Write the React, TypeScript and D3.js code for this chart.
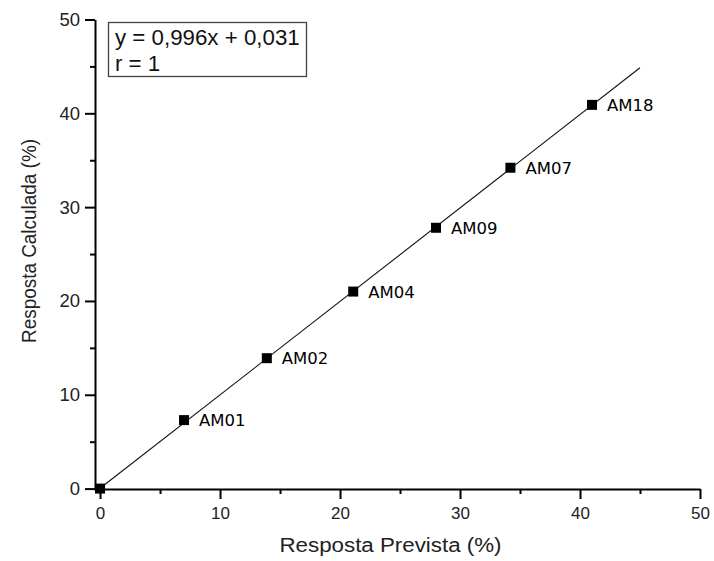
import { useRef, useEffect } from 'react'
import * as d3 from 'd3'

// sample names and values
const labels = ['', 'AM01', 'AM02', 'AM04', 'AM09', 'AM07', 'AM18']
const prevista = [0, 7.0, 13.9, 21.1, 28.0, 34.2, 41.0]
const calculada = [0, 7.3, 13.9, 21.0, 27.8, 34.2, 40.9]
const majorTicks = [0, 10, 20, 30, 40, 50]
const minorTicks = [5, 15, 25, 35, 45]
const fitSlope = 0.996
const fitIntercept = 0.031
const fitRange = [0, 45]
const equationLines = ['y = 0,996x + 0,031', 'r = 1']

const App = () => {
  const svgRef = useRef<SVGSVGElement>(null)

  useEffect(() => {
    const W = 714
    const H = 561
    const svg = d3.select(svgRef.current)
    svg.selectAll('*').remove()
    svg.attr('width', W).attr('height', H)

    const axisFont = '"Liberation Sans", Arial, sans-serif'

    // plot box: x axis 95..700, y axis 19.5..490
    const x = d3.scaleLinear().domain([-0.42, 50]).range([95, 700])
    const y = d3.scaleLinear().domain([-0.15, 50]).range([490, 19.5])

    const data = prevista.map((p, i) => ({ p, c: calculada[i], label: labels[i] }))

    // fitted line
    const line = d3.line<number>()
      .x(d => x(d))
      .y(d => y(fitSlope * d + fitIntercept))
    svg.append('path')
      .attr('d', line(fitRange))
      .attr('fill', 'none')
      .attr('stroke', '#111')
      .attr('stroke-width', 1.1)

    // points
    svg.selectAll('rect.pt')
      .data(data)
      .enter()
      .append('rect')
      .attr('class', 'pt')
      .attr('x', d => x(d.p) - 5)
      .attr('y', d => y(d.c) - 5)
      .attr('width', 10)
      .attr('height', 10)
      .attr('fill', '#000')

    svg.selectAll('text.lbl')
      .data(data.filter(d => d.label))
      .enter()
      .append('text')
      .attr('class', 'lbl')
      .attr('x', d => x(d.p) + 15)
      .attr('y', d => y(d.c) + 6)
      .attr('font-family', '"DejaVu Sans", sans-serif')
      .attr('font-size', 16.5)
      .attr('fill', '#000')
      .text(d => d.label)

    // x axis
    const xAxis = svg.append('g')
      .attr('transform', `translate(0,${489})`)
    xAxis.call(d3.axisBottom(x).tickValues(majorTicks).tickSize(10).tickSizeOuter(0).tickPadding(7.5))
    xAxis.append('g').call(d3.axisBottom(x).tickValues(minorTicks).tickSize(5).tickFormat(() => '').tickSizeOuter(0))
      .select('.domain').remove()
    xAxis.selectAll('text').attr('font-family', axisFont).attr('font-size', 17).attr('fill', '#222')
    xAxis.selectAll('line').attr('stroke', '#000').attr('stroke-width', 2)
    xAxis.selectAll('.domain').attr('stroke', '#000').attr('stroke-width', 2)

    // y axis
    const yAxis = svg.append('g')
      .attr('transform', `translate(${95},0)`)
    yAxis.call(d3.axisLeft(y).tickValues(majorTicks).tickSize(10).tickSizeOuter(0).tickPadding(5))
    yAxis.append('g').call(d3.axisLeft(y).tickValues(minorTicks).tickSize(5).tickFormat(() => '').tickSizeOuter(0))
      .select('.domain').remove()
    yAxis.selectAll('text').attr('font-family', axisFont).attr('font-size', 18.5).attr('fill', '#222')
    yAxis.selectAll('line').attr('stroke', '#000').attr('stroke-width', 2)
    yAxis.selectAll('.domain').attr('stroke', '#000').attr('stroke-width', 2)

    // axis titles
    svg.append('text')
      .attr('x', 390.5)
      .attr('y', 552)
      .attr('text-anchor', 'middle')
      .attr('font-family', axisFont)
      .attr('font-size', 20)
      .attr('textLength', 222)
      .attr('lengthAdjust', 'spacingAndGlyphs')
      .attr('fill', '#222')
      .text('Resposta Prevista (%)')

    svg.append('text')
      .attr('transform', `translate(35.5,${241}) rotate(-90)`)
      .attr('text-anchor', 'middle')
      .attr('font-family', axisFont)
      .attr('font-size', 21)
      .attr('textLength', 204)
      .attr('lengthAdjust', 'spacingAndGlyphs')
      .attr('fill', '#222')
      .text('Resposta Calculada (%)')

    // equation box
    const box = svg.append('g')
    box.append('rect')
      .attr('x', 108.5)
      .attr('y', 22.5)
      .attr('width', 198)
      .attr('height', 54)
      .attr('fill', '#fff')
      .attr('stroke', '#444')
      .attr('stroke-width', 1.3)
    box.selectAll('text')
      .data(equationLines)
      .enter()
      .append('text')
      .attr('x', 115)
      .attr('y', (_, i) => 45 + i * 26)
      .attr('font-family', axisFont)
      .attr('font-size', 22.3)
      .attr('fill', '#111')
      .text(d => d)
  }, [])

  return <svg ref={svgRef} style={{ position: 'absolute', left: 0, top: 0 }}></svg>
}

export default App
